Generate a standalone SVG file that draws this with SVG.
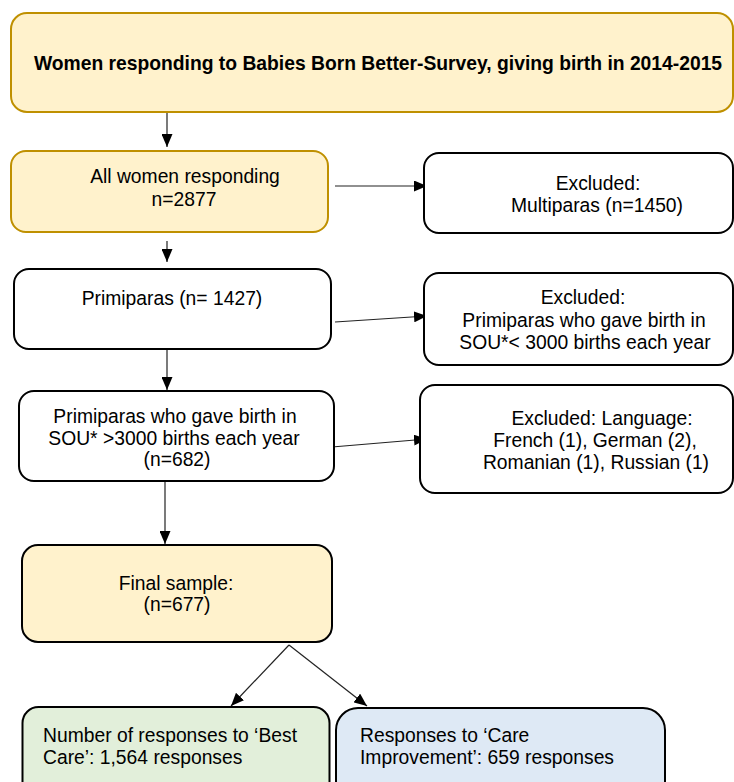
<svg xmlns="http://www.w3.org/2000/svg" width="734" height="782" viewBox="0 0 734 782">
<defs>
<marker id="ah" viewBox="0 0 13 11" refX="13" refY="5.5" markerWidth="13" markerHeight="11" markerUnits="userSpaceOnUse" orient="auto">
<path d="M0,0 L13,5.5 L0,11 Z" fill="#000"/>
</marker>
<style>
.gold{fill:#fff2cc;stroke:#bf9000;stroke-width:2}
.plain{fill:#fff;stroke:#000;stroke-width:2}
.fin{fill:#fff2cc;stroke:#000;stroke-width:2}
.grn{fill:#e2efda;stroke:#000;stroke-width:2}
.blu{fill:#dee9f5;stroke:#000;stroke-width:2}
text{font-family:"Liberation Sans",Arial,sans-serif;font-size:19.3px;fill:#000}
.c{text-anchor:middle}
.title{font-weight:bold;font-size:19.3px}
.conn{stroke:#222;stroke-width:1.2;fill:none;marker-end:url(#ah)}
</style>
</defs>
<rect width="734" height="782" fill="#fff"/>
<g id="connectors">
<line class="conn" x1="167" y1="113" x2="167" y2="147"/>
<line class="conn" x1="335" y1="186" x2="427" y2="186"/>
<line class="conn" x1="167" y1="241" x2="167" y2="262"/>
<line class="conn" x1="335" y1="322" x2="427" y2="316"/>
<line class="conn" x1="167" y1="349" x2="167" y2="390"/>
<line class="conn" x1="332" y1="447" x2="427" y2="439"/>
<line class="conn" x1="165" y1="482" x2="165" y2="544"/>
<line class="conn" x1="289" y1="645" x2="231" y2="706"/>
<line class="conn" x1="289" y1="645" x2="367" y2="706"/>
</g>
<g id="n-survey">
<rect class="gold" x="11" y="13" width="722" height="99" rx="16"/>
<text class="c title" x="378" y="70">Women responding to Babies Born Better-Survey, giving birth in 2014-2015</text>
</g>
<g id="n-all">
<rect class="gold" x="11" y="151" width="317" height="81" rx="15"/>
<text class="c" x="185" y="183">All women responding</text>
<text class="c" x="184" y="206">n=2877</text>
</g>
<g id="n-excl1">
<rect class="plain" x="424" y="153" width="309" height="80" rx="15"/>
<text class="c" x="598" y="190">Excluded:</text>
<text class="c" x="597" y="212">Multiparas (n=1450)</text>
</g>
<g id="n-primi">
<rect class="plain" x="14" y="269" width="317" height="80" rx="15"/>
<text class="c" x="172" y="305">Primiparas (n= 1427)</text>
</g>
<g id="n-excl2">
<rect class="plain" x="424" y="273" width="309" height="92" rx="15"/>
<text class="c" x="583" y="304">Excluded:</text>
<text class="c" x="584" y="327">Primiparas who gave birth in</text>
<text class="c" x="585" y="349">SOU*&lt; 3000 births each year</text>
</g>
<g id="n-sou">
<rect class="plain" x="19" y="391" width="315" height="90" rx="15"/>
<text class="c" x="175" y="423">Primiparas who gave birth in</text>
<text class="c" x="174" y="445">SOU* &gt;3000 births each year</text>
<text class="c" x="177" y="466">(n=682)</text>
</g>
<g id="n-excl3">
<rect class="plain" x="420" y="385" width="313" height="108" rx="15"/>
<text class="c" x="602" y="425">Excluded: Language:</text>
<text class="c" x="595" y="447">French (1), German (2),</text>
<text class="c" x="596" y="469">Romanian (1), Russian (1)</text>
</g>
<g id="n-final">
<rect class="fin" x="22" y="545" width="310" height="97" rx="16"/>
<text class="c" x="176" y="590">Final sample:</text>
<text class="c" x="177" y="611">(n=677)</text>
</g>
<g id="n-best">
<rect class="grn" x="22.5" y="707" width="307" height="100" rx="16"/>
<text x="43" y="742">Number of responses to ‘Best</text>
<text x="43" y="764">Care’: 1,564 responses</text>
</g>
<g id="n-care">
<rect class="blu" x="336" y="708" width="329" height="100" rx="22"/>
<text x="360" y="742">Responses to ‘Care</text>
<text x="360" y="764">Improvement’: 659 responses</text>
</g>
</svg>
